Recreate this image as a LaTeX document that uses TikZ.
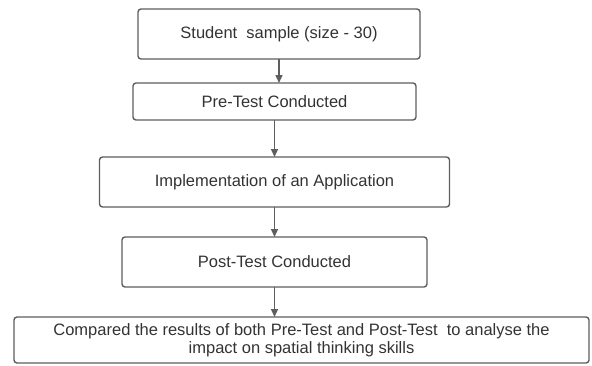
\documentclass[tikz,border=0pt]{standalone}
\usepackage{fontspec}
\setmainfont{Liberation Sans}
\usepackage{xcolor}
\usetikzlibrary{arrows.meta,positioning}

\definecolor{linegray}{HTML}{5E5E5E}
\definecolor{textgray}{HTML}{333333}

\begin{document}
\begin{tikzpicture}[
  font=\fontsize{16.5pt}{18pt}\selectfont,
  box/.style={rectangle, draw=linegray, line width=1.4pt, rounded corners=3pt, text=textgray, align=center, inner sep=2pt, outer sep=0pt},
  arr/.style={-{Triangle[length=8pt, width=7pt]}, draw=linegray, line width=1.4pt}
]
\useasboundingbox (0,0) rectangle (592pt,-365pt);

\node[box, minimum width=282pt, minimum height=50pt] (sample) at (279pt,-34pt) {Student\ \ sample (size - 30)};
\node[box, minimum width=283pt, minimum height=37pt, below=24pt of sample, xshift=-4.5pt] (pretest) {Pre-Test Conducted};
\node[box, minimum width=350pt, minimum height=50pt, below=37pt of pretest] (app) {Implementation of an Application};
\node[box, minimum width=305pt, minimum height=50pt, below=30pt of app] (posttest) {Post-Test Conducted};
\node[box, minimum width=575pt, minimum height=46pt, below=30pt of posttest, xshift=27pt] (compare) {Compared the results of both Pre-Test and Post-Test\ \ to analyse the\\impact on spatial thinking skills};

\draw[arr] (sample.south) -- (sample.south |- pretest.north);
\draw[arr] (pretest) -- (app);
\draw[arr] (app) -- (posttest);
\draw[arr] (posttest.south) -- (posttest.south |- compare.north);
\end{tikzpicture}
\end{document}
